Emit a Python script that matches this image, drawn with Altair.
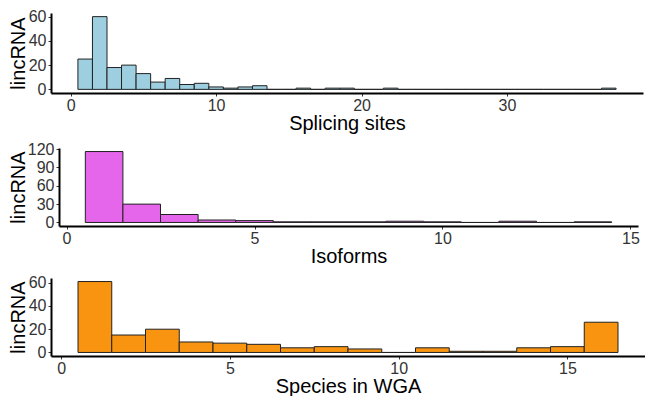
import altair as alt
import pandas as pd

# ---- data ----
splice_bins = list(range(1, 38))
splice_counts = [25, 60, 18, 20, 13, 6, 9, 4, 5, 2, 1, 2, 3, 0, 0, 1, 0, 1, 1, 0,
                 0, 1, 0, 0, 0, 0, 0, 0, 0, 0, 0, 0, 0, 0, 0, 0, 1]

iso_bins = list(range(1, 15))
iso_counts = [116, 30, 13, 4, 3, 1, 1, 1, 2, 1, 0, 2, 0, 1]

species_bins = list(range(1, 17))
species_counts = [61, 15, 20, 9, 8, 7, 4, 5, 3, 0, 4, 1, 1, 4, 5, 26]

FONT = "Liberation Sans"


def panel(bins, counts, color, xtitle, xdom, xticks, ydom, yticks,
          width, height, shift=0):
    df = pd.DataFrame({
        "lo": [b - 0.5 for b in bins],
        "hi": [b + 0.5 for b in bins],
        "base": [0] * len(bins),
        "count": counts,
    })
    xscale = alt.Scale(domain=xdom, nice=False, zero=False)
    if shift:
        xscale = alt.Scale(domain=xdom, nice=False, zero=False, range=[shift, width])
    return alt.Chart(df).mark_rect(
        fill=color, stroke="#222222", strokeWidth=1
    ).encode(
        x=alt.X("lo:Q", scale=xscale,
                axis=alt.Axis(values=xticks, title=xtitle, format="d",
                              titleX=(shift + width) / 2)),
        x2="hi",
        y=alt.Y("base:Q", scale=alt.Scale(domain=ydom, nice=False, zero=False),
                axis=alt.Axis(values=yticks, title="lincRNA", format="d",
                              offset=-shift,
                              titleX=-27 - shift, titleY=height / 2,
                              titleBaseline="alphabetic", titleAngle=270,
                              titleAlign="center")),
        y2="count",
    ).properties(width=width, height=height)


p1 = panel(splice_bins, splice_counts, "#9dcfe1", "Splicing sites",
           [-1.35, 39.35], [0, 10, 20, 30], [-3, 63], [0, 20, 40, 60], 592, 80)
p2 = panel(iso_bins, iso_counts, "#e566ea", "Isoforms",
           [-0.2, 15.2], [0, 5, 10, 15], [-5.8, 121.8], [0, 30, 60, 90, 120],
           587, 78, shift=8)
p3 = panel(species_bins, species_counts, "#f8940f", "Species in WGA",
           [-0.3, 17.3], [0, 5, 10, 15], [-3.05, 64.05], [0, 20, 40, 60], 594, 78)

chart = alt.ConcatChart(
    concat=[p1, p2, p3], columns=1, spacing=8,
    align=alt.RowColLayoutAlign(row="none", column="all"),
    padding={"left": 0, "top": 0, "right": 0, "bottom": 0},
    background="white",
).configure_view(
    stroke=None
).configure_axis(
    grid=False,
    domainColor="black",
    domainWidth=2,
    tickColor="#333333",
    tickWidth=1,
    tickSize=3,
    labelFont=FONT,
    labelFontSize=16,
    labelColor="#333333",
    labelPadding=2,
    titleFont=FONT,
    titleFontSize=20,
    titleFontWeight="normal",
    titleColor="black",
).configure_axisX(
    labelPadding=1,
    titlePadding=0,
)

chart.save("out.html", embed_options={"renderer": "svg", "actions": False})
